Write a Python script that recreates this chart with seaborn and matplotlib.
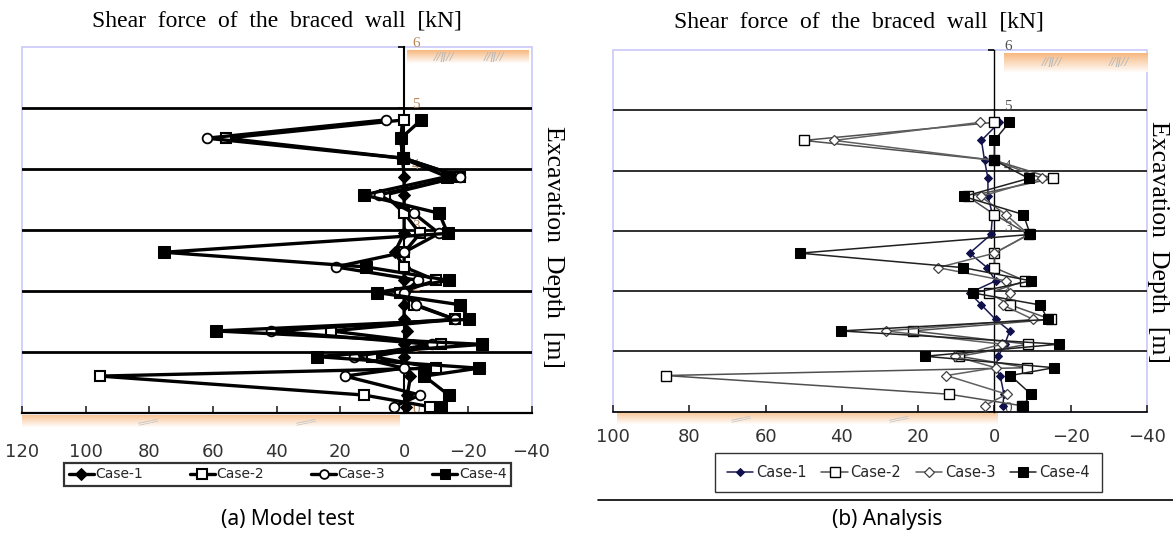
import numpy as np
import pandas as pd
import matplotlib
matplotlib.use("Agg")
import matplotlib.pyplot as plt
import seaborn as sns
from matplotlib.colors import LinearSegmentedColormap
from matplotlib.patches import Rectangle
from matplotlib.lines import Line2D

sns.set_theme(style="white")
plt.rcParams['font.family'] = ['DejaVu Sans']

# ---------------- data ----------------
cases = ["Case-1", "Case-2", "Case-3", "Case-4"]
depth = [4.8, 4.5, 4.17, 3.87, 3.57, 3.27, 2.94, 2.63, 2.39, 2.17,
         1.97, 1.77, 1.53, 1.34, 1.12, 0.92, 0.73, 0.6, 0.29, 0.1]

model_case1 = [0.5, 1, 0.5, 0, 0, 0, 0, 3, 0, 0, 0, 0, 0, -1, 0, 0, 0, -2, -1, -0.5]
model_case2 = [0, 56, 0, -17.5, 6, 0, -5, 0, 0, -10, 1.4, -3, -16, 23, -11.6, 10, -10, 95.5, 12.7, -8]
model_case3 = [5.7, 62, 0, -17.5, 8, -3, -11, 0, 21.5, -4.4, 0, -3.7, -16, 41.7, -8.7, 15.6, 0, 18.6, -5, 3.2]
model_case4 = [-5.4, 1, 0.5, -13.4, 12.7, -11, -13.7, 75.4, 12, -14, 8.5, -17.5, -20.5, 59, -24.6, 27.5, -23.4, -6.3, -14, -11.6]

anal_case1 = [-1.3, 3.4, 2.6, 1.7, 1.7, 0.5, 0.9, 6.5, 1.9, -0.3, 6.5, 3.4, -0.3, -4, -2.7, -1, -0.3, -1.5, -2.5, -2.2]
anal_case2 = [0, 50, 0, -15.4, 7, 0, -9, 0, 0, -8.1, 1.5, -4.2, -14.9, 21.4, -8.9, 9.2, -8.6, 86.2, 11.9, -7.1]
anal_case3 = [3.8, 42, 0, -12.5, 3.6, -3, -9, 0, 14.8, -3, -4, -2.2, -10.2, 28.5, -2, 10.4, -0.3, 12.6, -3.2, 2.6]
anal_case4 = [-3.9, 0, 0, -9, 8, -7.6, -9.4, 51, 8.2, -9.6, 5.6, -12, -14, 40.2, -16.9, 18.2, -15.6, -4.2, -9.6, -7.6]

x_ticks_a = [120, 100, 80, 60, 40, 20, 0, -20, -40]
x_ticks_b = [100, 80, 60, 40, 20, 0, -20, -40]
depth_ticks = [0, 1, 2, 3, 4, 5, 6]
title_text = "Shear  force  of  the  braced  wall  [kN]"
ylabel_text = "Excavation  Depth  [m]"

W, H = 1173, 534
fig = plt.figure(figsize=(W / 100, H / 100), dpi=100)

def fx(px):
    return px / W

def fy(py):
    return 1 - py / H

axA = fig.add_axes([fx(22), fy(412.7), fx(509.5), (412.7 - 46.7) / H])
axB = fig.add_axes([fx(613), fy(411.7), fx(534), (411.7 - 50) / H])

grad_cmap_top = LinearSegmentedColormap.from_list("o1", ["white", "#f7b880"])
grad_cmap_bot = LinearSegmentedColormap.from_list("o2", ["white", "#f9c596"])
grad = np.linspace(1, 0.05, 60).reshape(-1, 1)

def decorate(ax, xlim, xticks, heavy, label_pad, top_band, bot_band, top_hatch, bot_hatch, lab_color):
    ax.set_xlim(*xlim)
    ax.set_ylim(0, 6)
    ax.set_facecolor("white")
    for s in ["top", "right"]:
        ax.spines[s].set_visible(False)
    ax.spines["bottom"].set_color("black")
    ax.spines["bottom"].set_linewidth(1.6 if heavy else 1.2)
    ax.spines["left"].set_position(("data", 0))
    ax.spines["left"].set_color("black")
    ax.spines["left"].set_linewidth(1.5 if heavy else 1.0)
    ax.spines["left"].set_zorder(2)
    ax.set_yticks(depth_ticks)
    ax.set_yticklabels([])
    ax.tick_params(axis="y", direction="out", length=4, width=1.2, colors="black", left=True)
    ax.set_xticks(xticks)
    ax.set_xticklabels([str(t).replace("-", "\u2212") for t in xticks])
    ax.tick_params(axis="x", direction="in", length=5, width=1.2, bottom=True,
                   pad=label_pad, labelsize=13, labelcolor="#333333")
    # light-blue frame
    ax.add_patch(Rectangle((0, 0), 1, 1, transform=ax.transAxes, fill=False,
                           edgecolor="#c8c8fa", lw=1.2, zorder=0.5, clip_on=False))
    # horizontal depth lines
    for d in depth_ticks[1:-1]:
        ax.axhline(d, color="black" if heavy else "#303030", lw=2.0 if heavy else 1.4, zorder=1)
    # gradient bands
    ax.imshow(grad, extent=top_band, aspect="auto", cmap=grad_cmap_top, origin="upper",
              zorder=0.6, clip_on=True, vmin=0, vmax=1)
    ax.imshow(grad, extent=bot_band, aspect="auto", cmap=grad_cmap_bot, origin="upper",
              zorder=0.6, clip_on=False, vmin=0, vmax=1)
    for hx in top_hatch:
        ax.text(hx, (top_band[2] + top_band[3]) / 2, "//\u01c1//", fontsize=8, color="#b8b8b8",
                ha="center", va="center", style="italic", zorder=0.7)
    for hx in bot_hatch:
        ax.text(hx, (bot_band[2] + bot_band[3]) / 2, "\u2550\u2550\u2550", fontsize=8, color="#c8c8c8",
                ha="center", va="center", rotation=12, zorder=0.7, clip_on=False)
    # depth labels beside the zero line
    for d in depth_ticks:
        ax.text(-2.5, d + 0.06, str(d), fontsize=11, color=lab_color, ha="left", va="center",
                family="Liberation Serif", zorder=1.5)
    ax.set_xlim(*xlim)
    ax.set_ylim(0, 6)
    ax.set_xlabel("")
    ax.set_ylabel("")

decorate(axA, (120, -40), x_ticks_a, True, 22,
         (-0.9, -39, 5.73, 5.93), (120, 1.6, -0.24, -0.05), [-12.6, -28.3], [80.6, 30.9], "#b8875a")
decorate(axB, (100, -40), x_ticks_b, False, 12,
         (-2.4, -40, 5.64, 5.95), (99, -0.8, -0.21, -0.02), [-15, -32.6], [66.6, 25], "#505050")

# ---------------- model test ----------------
model_vals = [model_case1, model_case2, model_case3, model_case4]
model_styles = [
    dict(marker="D", markersize=6.5, markerfacecolor="black", markeredgecolor="black"),
    dict(marker="s", markersize=7.5, markerfacecolor="white", markeredgecolor="black", markeredgewidth=1.5),
    dict(marker="o", markersize=7, markerfacecolor="white", markeredgecolor="black", markeredgewidth=1.3),
    dict(marker="s", markersize=8, markerfacecolor="black", markeredgecolor="black"),
]
for name, vals, st in zip(cases, model_vals, model_styles):
    df = pd.DataFrame({"shear": vals, "depth": depth})
    sns.lineplot(data=df, x="shear", y="depth", sort=False, estimator=None, ax=axA,
                 color="black", lw=2.4, label=name, legend=False, zorder=3, **st)

# ---------------- analysis ----------------
anal_vals = [anal_case1, anal_case2, anal_case3, anal_case4]
anal_styles = [
    dict(color="#1a1a50", marker="D", markersize=4.5, markerfacecolor="#10104a", markeredgecolor="#10104a"),
    dict(color="#505050", marker="s", markersize=7, markerfacecolor="white", markeredgecolor="black", markeredgewidth=1.0),
    dict(color="#606060", marker="D", markersize=5, markerfacecolor="white", markeredgecolor="#404040", markeredgewidth=0.9),
    dict(color="#202020", marker="s", markersize=7, markerfacecolor="black", markeredgecolor="black"),
]
for name, vals, st in zip(cases, anal_vals, anal_styles):
    df = pd.DataFrame({"shear": vals, "depth": depth})
    sns.lineplot(data=df, x="shear", y="depth", sort=False, estimator=None, ax=axB,
                 lw=1.1, label=name, legend=False, zorder=3, **st)

for ax in (axA, axB):
    ax.set_xlabel("")
    ax.set_ylabel("")

# ---------------- titles / labels ----------------
fig.text(fx(277), fy(21), title_text, ha="center", va="center", fontsize=17,
         family="Liberation Serif", color="black")
fig.text(fx(859), fy(22), title_text, ha="center", va="center", fontsize=17,
         family="Liberation Serif", color="black")
fig.text(fx(553), fy(247), ylabel_text, ha="center", va="center", rotation=-90,
         fontsize=18.5, family="Liberation Serif", color="black")
fig.text(fx(1158), fy(242), ylabel_text, ha="center", va="center", rotation=-90,
         fontsize=18.5, family="Liberation Serif", color="black")

fig.text(fx(288), fy(519), "(a) Model test", ha="center", va="center", fontsize=15,
         family="Noto Sans", color="black")
fig.text(fx(887), fy(519), "(b) Analysis", ha="center", va="center", fontsize=15,
         family="Noto Sans", color="black")

# ---------------- legends ----------------
hA, lA = axA.get_legend_handles_labels()
legA = axA.legend(hA, lA, loc="center", bbox_to_anchor=(fx(287.5), fy(474.5)),
                  bbox_transform=fig.transFigure, ncol=4, frameon=True, fancybox=False,
                  edgecolor="black", fontsize=10, handlelength=1.8, handletextpad=0.1,
                  columnspacing=3.4, borderpad=0.35, markerscale=0.9)
legA.get_frame().set_linewidth(1.6)
hB, lB = axB.get_legend_handles_labels()
legB = axB.legend(hB, lB, loc="center", bbox_to_anchor=(fx(908.5), fy(472.5)),
                  bbox_transform=fig.transFigure, ncol=4, frameon=True, fancybox=False,
                  edgecolor="black", fontsize=10.5, handlelength=1.8, handletextpad=0.2,
                  columnspacing=1.0, borderpad=0.8)
legB.get_frame().set_linewidth(1.0)

fig.add_artist(Line2D([fx(598), 1.0], [fy(500), fy(500)], transform=fig.transFigure,
                      color="black", lw=1.2))

fig.savefig("out.png", dpi=100, facecolor="white")
